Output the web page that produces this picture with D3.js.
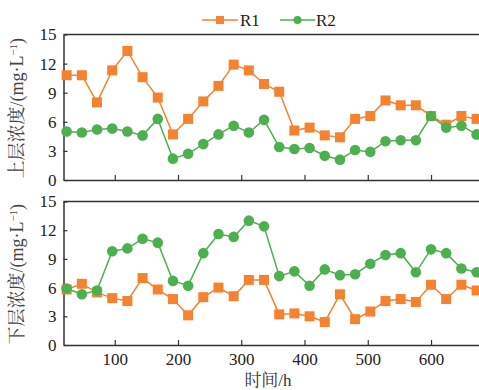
<!DOCTYPE html>
<html><head><meta charset="utf-8">
<script src="https://cdn.jsdelivr.net/npm/d3@7"></script>
<style>body{margin:0;background:#fff}svg{display:block}</style>
</head><body>
<script>
const hours = d3.range(1, 29).map(i => i * 24);
const upperR1 = [10.8,10.8,8.0,11.3,13.3,10.6,8.5,4.7,6.3,8.1,9.7,11.9,11.3,9.9,9.1,5.1,5.4,4.6,4.4,6.3,6.6,8.2,7.7,7.7,6.6,5.7,6.6,6.3];
const upperR2 = [5.0,4.9,5.2,5.3,5.0,4.6,6.3,2.2,2.7,3.7,4.7,5.6,4.9,6.2,3.4,3.2,3.3,2.5,2.1,3.1,2.9,4.0,4.1,4.1,6.6,5.4,5.6,4.7];
const lowerR1 = [5.8,6.4,5.5,4.9,4.6,7.0,5.8,4.8,3.1,5.0,6.0,5.1,6.8,6.8,3.2,3.3,3.0,2.4,5.3,2.7,3.5,4.6,4.8,4.5,6.3,4.8,6.3,5.7];
const lowerR2 = [5.9,5.3,5.7,9.8,10.1,11.1,10.7,6.7,6.2,9.6,11.6,11.3,13.0,12.4,7.2,7.7,6.2,7.9,7.3,7.4,8.5,9.4,9.6,7.6,10.0,9.6,8.0,7.6];
const yTicks = [0,3,6,9,12,15];
const xTicks = [100,200,300,400,500,600];
const seriesNames = ["R1","R2"];
const colors = {R1:"#f5822f", R2:"#4caf50"};

const W = 479, H = 390;
const svg = d3.select("body").append("svg").attr("width", W).attr("height", H);
const left = 63.5, right = 481;
const x = d3.scaleLinear().domain([19, 679]).range([left, right]);
const serif = "'Liberation Serif','Times New Roman',serif";
const cjk = "'Liberation Serif','Noto Serif CJK SC','Noto Sans CJK SC',serif";

function panel(top, bottom, r1, r2, title, showX) {
  const y = d3.scaleLinear().domain([0, 15]).range([bottom, top]);
  const g = svg.append("g");
  g.append("line").attr("x1", left).attr("x2", W).attr("y1", top).attr("y2", top)
    .attr("stroke", "#333").attr("stroke-width", 1.5);
  const ya = g.append("g").attr("transform", `translate(${left},0)`)
    .call(d3.axisLeft(y).tickValues(yTicks).tickSize(-4).tickPadding(7).tickSizeOuter(0));
  ya.select(".domain").attr("stroke", "#333").attr("stroke-width", 1.5);
  ya.selectAll(".tick line").attr("stroke", "#333").attr("stroke-width", 1.2);
  ya.selectAll("text").attr("font-family", serif).attr("font-size", 17).attr("fill", "#222");
  const xa = g.append("g").attr("transform", `translate(0,${bottom})`)
    .call(d3.axisBottom(x).tickValues(xTicks).tickSize(-5).tickPadding(8).tickSizeOuter(0)
      .tickFormat(showX ? d3.format("d") : () => ""));
  xa.select(".domain").attr("stroke", "#333").attr("stroke-width", 1.5);
  xa.selectAll(".tick line").attr("stroke", "#333").attr("stroke-width", 1.2);
  xa.selectAll("text").attr("font-family", serif).attr("font-size", 17).attr("fill", "#222");

  const line = d3.line().x((d, i) => x(hours[i])).y(d => y(d));
  [["R1", r1], ["R2", r2]].forEach(([name, vals]) => {
    g.append("path").datum(vals).attr("d", line).attr("fill", "none")
      .attr("stroke", colors[name]).attr("stroke-width", 1.5);
    if (name === "R1") {
      g.selectAll(null).data(vals).enter().append("rect")
        .attr("x", (d, i) => x(hours[i]) - 5).attr("y", d => y(d) - 5)
        .attr("width", 10).attr("height", 10).attr("fill", colors[name]);
    } else {
      g.selectAll(null).data(vals).enter().append("circle")
        .attr("cx", (d, i) => x(hours[i])).attr("cy", d => y(d)).attr("r", 5.3)
        .attr("fill", colors[name]);
    }
  });
  g.append("text").attr("transform", `translate(23,${(top + bottom) / 2 + 1}) rotate(-90)`)
    .attr("text-anchor", "middle").attr("font-family", cjk).attr("font-size", 18)
    .attr("fill", "#444")
    .html(title + "/(mg·L<tspan baseline-shift='super' font-size='11'>−1</tspan>)");
}

panel(34.5, 180, upperR1, upperR2, "上层浓度", false);
panel(201.5, 345, lowerR1, lowerR2, "下层浓度", true);

svg.append("text").attr("x", 268).attr("y", 386).attr("text-anchor", "middle")
  .attr("font-family", cjk).attr("font-size", 17).attr("fill", "#333").text("时间/h");

const leg = [{name:"R1", x0:202, x1:238, tx:240}, {name:"R2", x0:280, x1:315, tx:316}];
leg.forEach(l => {
  const g = svg.append("g");
  g.append("line").attr("x1", l.x0).attr("x2", l.x1).attr("y1", 20).attr("y2", 20)
    .attr("stroke", colors[l.name]).attr("stroke-width", 1.5);
  const cx = (l.x0 + l.x1) / 2;
  if (l.name === "R1") g.append("rect").attr("x", cx - 4).attr("y", 16).attr("width", 8).attr("height", 8).attr("fill", colors.R1);
  else g.append("circle").attr("cx", cx).attr("cy", 20).attr("r", 4).attr("fill", colors.R2);
  g.append("text").attr("x", l.tx).attr("y", 26).attr("font-family", serif).attr("font-size", 17)
    .attr("fill", "#222").text(l.name);
});
</script>
</body></html>
